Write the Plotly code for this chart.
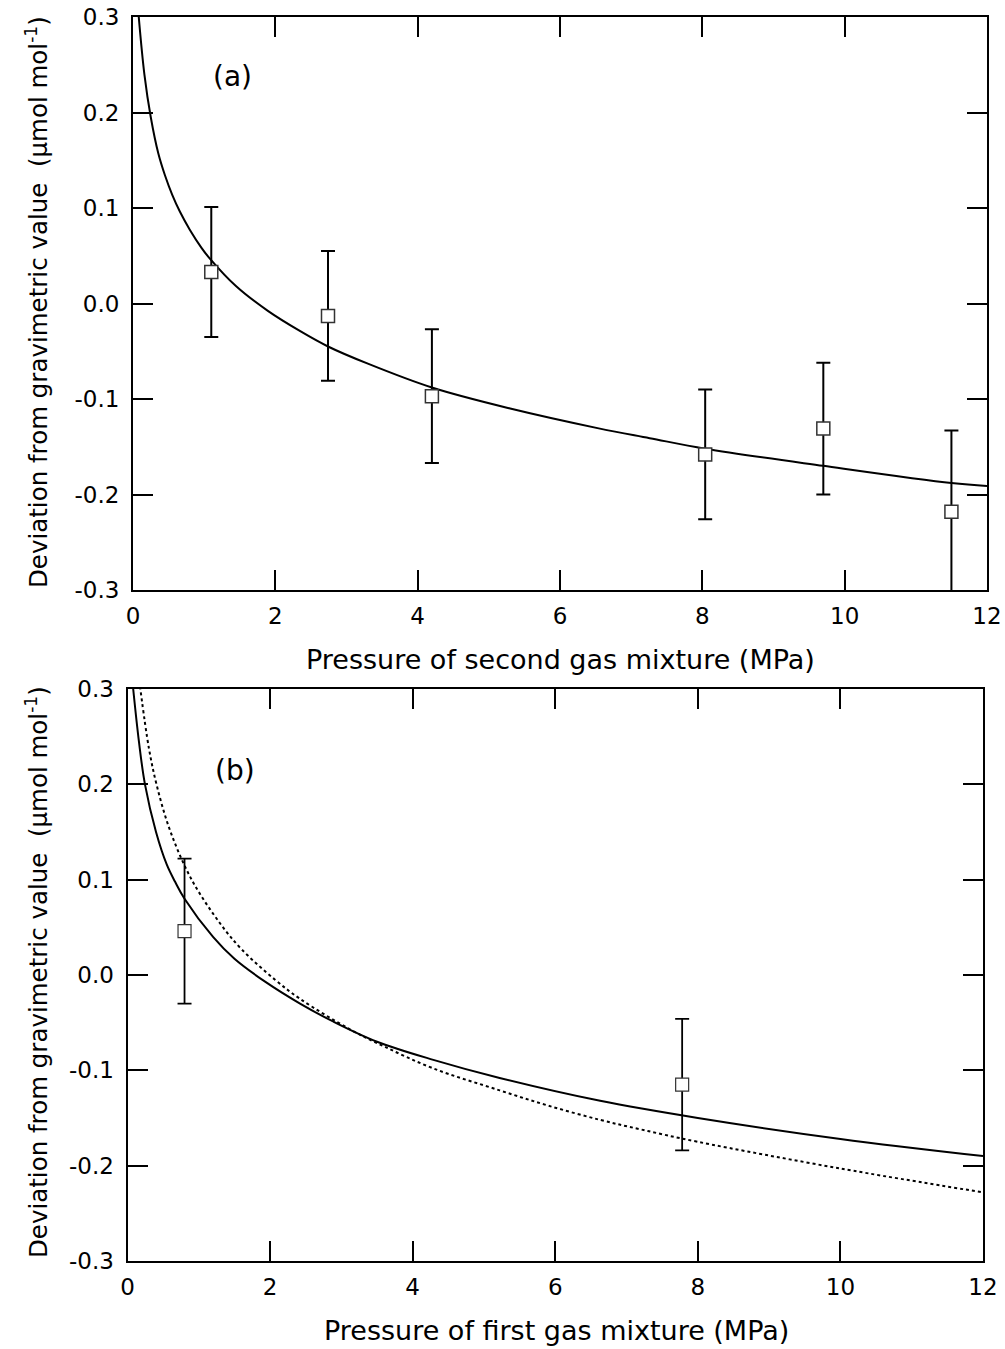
import plotly.graph_objects as go

W, H = 1005, 1349

# ---------------- data ----------------
# panel (a): measured points (pressure of second gas mixture, MPa)
xa_pts = [1.10, 2.74, 4.20, 8.04, 9.70, 11.50]
ya_pts = [0.033, -0.013, -0.097, -0.158, -0.131, -0.218]
ya_err = [0.068, 0.068, 0.070, 0.068, 0.069, 0.085]

# panel (a): fitted curve
xa_fit = [0.075, 0.16, 0.25, 0.356, 0.45, 0.55, 0.66, 0.80, 0.965, 1.08, 1.45, 1.90, 2.35, 2.74, 3.30, 4.20, 5.30, 6.56, 7.26, 8.04, 9.70, 11.50, 12.0]
ya_fit = [0.305, 0.240, 0.195, 0.157, 0.134, 0.114, 0.096, 0.077, 0.058, 0.047, 0.018, -0.008, -0.029, -0.045, -0.063, -0.088, -0.110, -0.131, -0.141, -0.152, -0.170, -0.188, -0.191]

# panel (b): measured points (pressure of first gas mixture, MPa)
xb_pts = [0.80, 7.78]
yb_pts = [0.046, -0.115]
yb_err = [0.076, 0.069]

# panel (b): solid curve
xb_fit1 = [0.08, 0.16, 0.245, 0.40, 0.55, 0.666, 0.80, 1.20, 1.50, 1.93, 2.42, 2.89, 3.50, 4.29, 5.22, 6.63, 8.0, 10.0, 12.0]
yb_fit1 = [0.300, 0.245, 0.200, 0.150, 0.116, 0.098, 0.080, 0.040, 0.017, -0.007, -0.030, -0.049, -0.070, -0.089, -0.108, -0.132, -0.150, -0.172, -0.190]

# panel (b): dotted curve
xb_fit2 = [0.175, 0.30, 0.41, 0.60, 0.90, 1.30, 1.60, 2.07, 2.42, 3.12, 3.60, 4.29, 5.22, 5.90, 6.63, 7.20, 8.0, 10.0, 12.0]
yb_fit2 = [0.303, 0.238, 0.199, 0.151, 0.100, 0.054, 0.027, -0.005, -0.025, -0.057, -0.075, -0.098, -0.121, -0.137, -0.152, -0.162, -0.175, -0.203, -0.228]

x_ticks = [0, 2, 4, 6, 8, 10, 12]
y_ticks = [-0.3, -0.2, -0.1, 0.0, 0.1, 0.2, 0.3]
y_ticktext = ["-0.3", "-0.2", "-0.1", "0.0", "0.1", "0.2", "0.3"]

ytitle = "Deviation from gravimetric value  (\u03bcmol mol<sup>-1</sup>)"
xtitle_a = "Pressure of second gas mixture (MPa)"
xtitle_b = "Pressure of first gas mixture (MPa)"

FONT = "DejaVu Sans"

# ---------------- figure ----------------
fig = go.Figure()

def px_x(p):
    return p / W

def px_y(p):
    return 1 - p / H

line_style = dict(color="black", width=2, shape="spline", smoothing=1.0)

# panel a
fig.add_trace(go.Scatter(x=xa_fit, y=ya_fit, mode="lines", line=line_style,
                         xaxis="x", yaxis="y", showlegend=False, hoverinfo="skip"))
fig.add_trace(go.Scatter(x=xa_pts, y=ya_pts, mode="markers", cliponaxis=False,
                         marker=dict(symbol="square", size=13, color="white", line=dict(color="#333333", width=1.5)),
                         error_y=dict(type="data", array=ya_err, visible=True, color="black", thickness=2, width=7),
                         xaxis="x", yaxis="y", showlegend=False))

# panel b
fig.add_trace(go.Scatter(x=xb_fit2, y=yb_fit2, mode="lines",
                         line=dict(color="black", width=2, dash="dot", shape="spline", smoothing=1.0),
                         xaxis="x2", yaxis="y2", showlegend=False, hoverinfo="skip"))
fig.add_trace(go.Scatter(x=xb_fit1, y=yb_fit1, mode="lines", line=line_style,
                         xaxis="x2", yaxis="y2", showlegend=False, hoverinfo="skip"))
fig.add_trace(go.Scatter(x=xb_pts, y=yb_pts, mode="markers",
                         marker=dict(symbol="square", size=13, color="white", line=dict(color="#333333", width=1.2)),
                         error_y=dict(type="data", array=yb_err, visible=True, color="black", thickness=1.8, width=7),
                         xaxis="x2", yaxis="y2", showlegend=False))

axis_common = dict(showline=True, linecolor="black", linewidth=2, mirror="allticks",
                   ticks="inside", ticklen=20, tickwidth=2, tickcolor="black",
                   showgrid=False, zeroline=False, automargin=False,
                   ticklabeloverflow="allow",
                   tickfont=dict(family=FONT, size=23, color="black"))

fig.update_layout(
    width=W, height=H,
    margin=dict(l=0, r=0, t=0, b=0, pad=0, autoexpand=False),
    paper_bgcolor="white", plot_bgcolor="white",
    font=dict(family=FONT, color="black"),
    xaxis=dict(domain=[px_x(133), px_x(987)], range=[0, 12], tickvals=x_ticks, anchor="y",
               ticklabelstandoff=4, **axis_common),
    yaxis=dict(domain=[px_y(590), px_y(17)], range=[-0.3, 0.3], tickvals=y_ticks, ticktext=y_ticktext,
               anchor="x", ticklabelstandoff=7, **axis_common),
    xaxis2=dict(domain=[px_x(127.5), px_x(983)], range=[0, 12], tickvals=x_ticks, anchor="y2",
                ticklabelstandoff=4, **axis_common),
    yaxis2=dict(domain=[px_y(1261), px_y(689)], range=[-0.3, 0.3], tickvals=y_ticks, ticktext=y_ticktext,
                anchor="x2", ticklabelstandoff=7, **axis_common),
)

ann = []
ann.append(dict(text=xtitle_a, x=px_x(560), y=px_y(659), xref="paper", yref="paper",
                showarrow=False, xanchor="center", yanchor="middle", font=dict(family=FONT, size=27, color="black")))
ann.append(dict(text=xtitle_b, x=px_x(556), y=px_y(1330), xref="paper", yref="paper",
                showarrow=False, xanchor="center", yanchor="middle", font=dict(family=FONT, size=27, color="black")))
ann.append(dict(text=ytitle, x=px_x(37), y=px_y(302), xref="paper", yref="paper", textangle=-90,
                showarrow=False, xanchor="center", yanchor="middle", font=dict(family=FONT, size=24.5, color="black")))
ann.append(dict(text=ytitle, x=px_x(37), y=px_y(972), xref="paper", yref="paper", textangle=-90,
                showarrow=False, xanchor="center", yanchor="middle", font=dict(family=FONT, size=24.5, color="black")))
ann.append(dict(text="(a)", x=px_x(232), y=px_y(77), xref="paper", yref="paper",
                showarrow=False, xanchor="center", yanchor="middle", font=dict(family=FONT, size=28, color="black")))
ann.append(dict(text="(b)", x=px_x(235), y=px_y(771), xref="paper", yref="paper",
                showarrow=False, xanchor="center", yanchor="middle", font=dict(family=FONT, size=28, color="black")))
fig.update_layout(annotations=ann)

fig.write_html("out.html", config={"displayModeBar": False},
               post_script="document.body.style.margin='0';document.body.style.overflow='hidden';")
